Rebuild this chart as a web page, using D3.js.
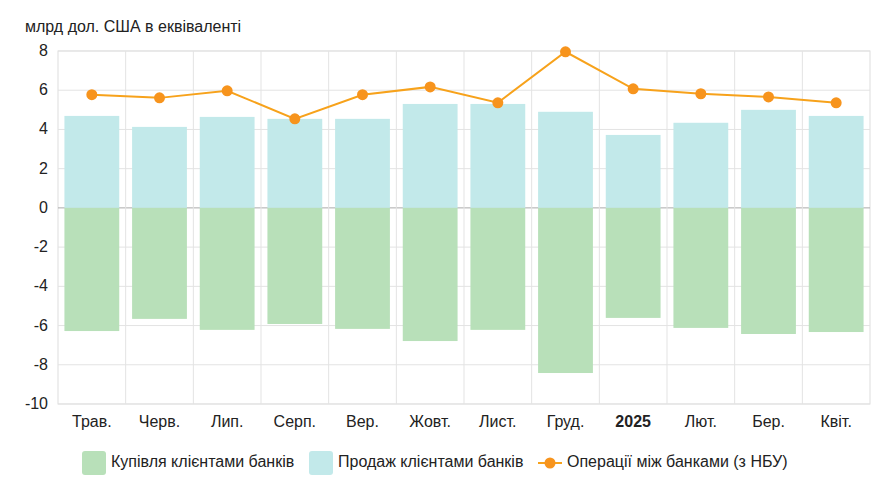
<!DOCTYPE html>
<html><head><meta charset="utf-8">
<script src="https://cdn.jsdelivr.net/npm/d3@7"></script>
<style>body{margin:0;background:#fff;font-family:"Liberation Sans",Arial,sans-serif}</style>
</head><body><svg id="c" width="891" height="500"></svg>
<script>
const categories=["Трав.","Черв.","Лип.","Серп.","Вер.","Жовт.","Лист.","Груд.","2025","Лют.","Бер.","Квіт."];
const sales=[4.69,4.13,4.64,4.54,4.54,5.3,5.3,4.9,3.72,4.34,5.0,4.69];
const purchases=[-6.28,-5.66,-6.22,-5.92,-6.17,-6.79,-6.22,-8.42,-5.61,-6.12,-6.43,-6.33];
const interbank=[5.77,5.61,5.97,4.54,5.77,6.17,5.36,7.96,6.07,5.82,5.66,5.36];
const yTicks=[8,6,4,2,0,-2,-4,-6,-8,-10];
const svg=d3.select("#c");
const L=58,R=870,T=51,B=404;
const x=d3.scaleBand().domain(categories).range([L,R]).paddingInner(0.19).paddingOuter(0.095);
const y=d3.scaleLinear().domain([-10,8]).range([B,T]);
svg.append("rect").attr("x",L).attr("y",T).attr("width",R-L).attr("height",B-T).attr("fill","none").attr("stroke","#ddd");
svg.selectAll(".hg").data(yTicks).join("line").attr("x1",L).attr("x2",R).attr("y1",d=>y(d)).attr("y2",d=>y(d)).attr("stroke",d=>d===0?"#aaa":"#e3e3e3");
const step=x.step();
svg.selectAll(".vg").data(categories.slice(1)).join("line").attr("x1",d=>x(d)-step*x.paddingInner()/2).attr("x2",d=>x(d)-step*x.paddingInner()/2).attr("y1",T).attr("y2",B).attr("stroke","#e3e3e3");
svg.selectAll(".yt").data(yTicks).join("text").attr("x",48).attr("y",d=>y(d)+5).attr("text-anchor","end").attr("font-size",16).attr("fill","#222").text(d=>d);
svg.selectAll(".s").data(sales).join("rect").attr("x",(d,i)=>x(categories[i])).attr("width",x.bandwidth()).attr("y",d=>y(d)).attr("height",d=>y(0)-y(d)).attr("fill","#c2e9ea");
svg.selectAll(".p").data(purchases).join("rect").attr("x",(d,i)=>x(categories[i])).attr("width",x.bandwidth()).attr("y",y(0)).attr("height",d=>y(d)-y(0)).attr("fill","#b8e0b9");
const line=d3.line().x((d,i)=>x(categories[i])+x.bandwidth()/2).y(d=>y(d));
svg.append("path").datum(interbank).attr("d",line).attr("fill","none").attr("stroke","#f7a21b").attr("stroke-width",2);
svg.selectAll(".pt").data(interbank).join("circle").attr("cx",(d,i)=>x(categories[i])+x.bandwidth()/2).attr("cy",d=>y(d)).attr("r",5.5).attr("fill","#f7941d");
svg.selectAll(".xt").data(categories).join("text").attr("x",d=>x(d)+x.bandwidth()/2).attr("y",427).attr("text-anchor","middle").attr("font-size",16).attr("font-weight",d=>d==="2025"?"bold":"normal").attr("fill","#222").text(d=>d);
svg.append("text").attr("x",25).attr("y",32).attr("font-size",16).attr("fill","#222").text("млрд дол. США в еквіваленті");
const lg=svg.append("g").attr("font-size",16).attr("fill","#222");
lg.append("rect").attr("x",82).attr("y",451).attr("width",24).attr("height",24).attr("rx",3).attr("fill","#b8e0b9");
lg.append("text").attr("x",111).attr("y",467).text("Купівля клієнтами банків");
lg.append("rect").attr("x",309).attr("y",451).attr("width",24).attr("height",24).attr("rx",3).attr("fill","#c2e9ea");
lg.append("text").attr("x",338).attr("y",467).text("Продаж клієнтами банків");
lg.append("line").attr("x1",538).attr("x2",562).attr("y1",463).attr("y2",463).attr("stroke","#f7a21b").attr("stroke-width",2);
lg.append("circle").attr("cx",550).attr("cy",463).attr("r",5.5).attr("fill","#f7941d");
lg.append("text").attr("x",567).attr("y",467).text("Операції між банками (з НБУ)");
</script></body></html>
